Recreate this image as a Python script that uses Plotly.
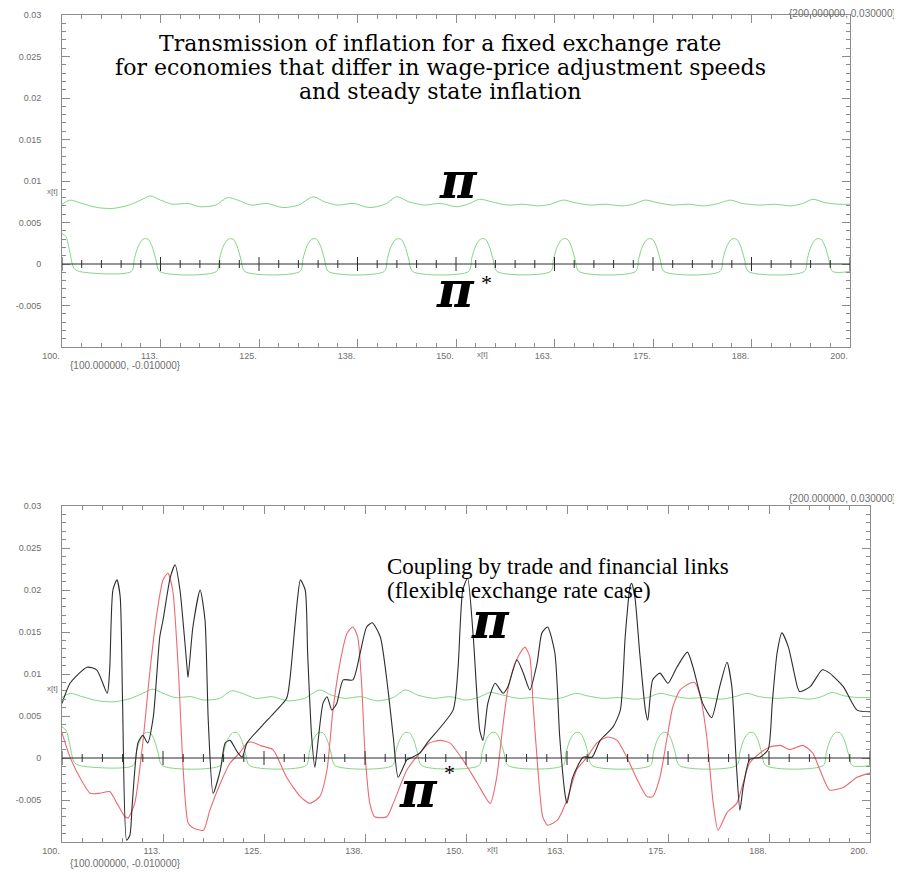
import plotly.graph_objects as go

# ---------------- data ----------------
# x positions are time t (100..200); values are inflation rates
green_up_x = [100.0, 101.0, 102.5, 104.5, 106.5, 108.5, 110.0, 111.2, 112.5, 114.0, 116.0, 117.5, 119.5,
              121.0, 122.3, 124.0, 126.0, 128.0, 130.0, 131.9, 133.3, 135.0, 137.0, 139.0, 141.0,
              142.5, 144.0, 146.0, 148.0, 150.0, 151.5, 153.0, 154.5, 156.5, 158.5, 160.5, 162.0,
              163.6, 165.0, 167.0, 169.0, 171.0, 172.5, 174.0, 175.5, 177.5, 179.5, 181.5, 183.3,
              184.8, 186.3, 188.5, 190.5, 192.5, 194.0, 195.3, 196.8, 198.5, 200.0]
green_up_y = [0.0072, 0.0077, 0.0073, 0.0068, 0.0067, 0.0071, 0.0077, 0.0082, 0.0077, 0.0072, 0.0073, 0.0069, 0.0071,
              0.0080, 0.0077, 0.0071, 0.0073, 0.0068, 0.0071, 0.0081, 0.0075, 0.0071, 0.0073, 0.0068, 0.0072,
              0.0081, 0.0075, 0.0071, 0.0073, 0.0069, 0.0072, 0.0078, 0.0075, 0.0071, 0.0072, 0.0070, 0.0072,
              0.0077, 0.0074, 0.0071, 0.0072, 0.0070, 0.0072, 0.0077, 0.0074, 0.0071, 0.0072, 0.0070, 0.0073,
              0.0077, 0.0073, 0.0071, 0.0072, 0.0070, 0.0073, 0.0078, 0.0074, 0.0072, 0.0072]

green_lo_x = [100.0, 100.5, 101.0, 101.5, 102.2,
              108.8, 109.2, 109.7, 110.3, 110.9, 111.4, 111.9, 112.4,
              119.6, 120.0, 120.5, 121.1, 121.7, 122.2, 122.7, 123.2,
              130.2, 130.6, 131.1, 131.7, 132.3, 132.8, 133.3, 133.8,
              140.9, 141.3, 141.8, 142.4, 143.0, 143.5, 144.0, 144.5,
              151.6, 152.0, 152.5, 153.1, 153.7, 154.2, 154.7, 155.2,
              162.0, 162.4, 162.9, 163.5, 164.1, 164.6, 165.1, 165.6,
              172.8, 173.2, 173.7, 174.3, 174.9, 175.4, 175.9, 176.4,
              183.5, 183.9, 184.4, 185.0, 185.6, 186.1, 186.6, 187.1,
              194.2, 194.6, 195.1, 195.7, 196.3, 196.8, 197.3, 197.8,
              200.0]
green_lo_y = [0.0037, 0.0033, 0.0014, -0.0005, -0.0009,
              -0.0009, 0.0007, 0.0022, 0.0030, 0.0030, 0.0022, 0.0006, -0.0009,
              -0.0009, 0.0007, 0.0022, 0.0030, 0.0030, 0.0022, 0.0006, -0.0009,
              -0.0009, 0.0007, 0.0022, 0.0030, 0.0030, 0.0022, 0.0006, -0.0009,
              -0.0009, 0.0007, 0.0022, 0.0030, 0.0030, 0.0022, 0.0006, -0.0009,
              -0.0009, 0.0007, 0.0022, 0.0030, 0.0030, 0.0022, 0.0006, -0.0009,
              -0.0009, 0.0007, 0.0022, 0.0030, 0.0030, 0.0022, 0.0006, -0.0009,
              -0.0009, 0.0007, 0.0022, 0.0030, 0.0030, 0.0022, 0.0006, -0.0009,
              -0.0009, 0.0007, 0.0022, 0.0030, 0.0030, 0.0022, 0.0006, -0.0009,
              -0.0009, 0.0007, 0.0022, 0.0030, 0.0030, 0.0022, 0.0006, -0.0009,
              -0.0009]

pi_x = [100.0, 101.0, 103.1, 104.3, 105.6, 105.9, 106.3, 106.8, 107.2, 107.5, 108.0, 108.4, 108.7,
        109.4, 110.0, 110.6, 111.3, 112.1, 112.5, 113.4, 114.0, 114.6, 115.5, 115.6, 116.2, 117.1,
        117.7, 118.1, 118.7, 119.6, 120.2, 120.8, 121.7, 122.3, 122.9, 125.4, 127.8, 128.2, 129.1,
        129.5, 130.1, 130.4, 130.9, 131.3, 131.7, 132.3, 132.8, 133.4, 134.0, 134.8, 136.0, 136.9,
        137.7, 138.4, 139.4, 140.3, 141.0, 141.6, 142.7, 143.4, 144.3, 145.2, 148.4, 149.0, 149.6,
        150.2, 150.9, 151.7, 152.1, 152.7, 153.6, 154.6, 155.2, 156.3, 157.1, 157.9, 158.8, 159.4,
        160.1, 161.0, 161.6, 162.3, 162.5, 163.2, 164.5, 165.6, 166.6, 168.2, 169.1, 169.7, 170.3,
        170.5, 170.9, 171.5, 172.2, 172.5, 173.1, 174.0, 175.0, 176.1, 177.4, 178.1, 179.3, 180.4,
        181.4, 182.3, 182.9, 183.5, 183.9, 184.3, 185.1, 186.4, 187.4, 187.9, 188.5, 189.1, 189.9,
        191.0, 191.3, 192.6, 194.1, 195.0, 196.7, 198.4, 200.0]
pi_y = [0.0065, 0.0089, 0.0108, 0.0105, 0.0077, 0.0105, 0.0200, 0.0212, 0.0192, 0.0065, -0.0098, -0.0092, -0.0054,
        0.0018, 0.0027, 0.0018, 0.0049, 0.0144, 0.0164, 0.0215, 0.0230, 0.0200, 0.0105, 0.0096, 0.0156, 0.0200,
        0.0164, 0.0045, -0.0042, -0.0014, 0.0018, 0.0021, 0.0007, 0.0001, 0.0018, 0.0045, 0.0071, 0.0093, 0.0185,
        0.0212, 0.0200, 0.0125, 0.0025, -0.0011, 0.0021, 0.0065, 0.0073, 0.0057, 0.0065, 0.0093, 0.0093, 0.0125,
        0.0156, 0.0161, 0.0144, 0.0085, 0.0025, -0.0023, -0.0002, 0.0001, 0.0006, 0.0018, 0.0057, 0.0105, 0.0200,
        0.0214, 0.0144, 0.0033, 0.0021, 0.0065, 0.0089, 0.0077, 0.0085, 0.0117, 0.0101, 0.0081, 0.0113, 0.0149,
        0.0156, 0.0125, 0.0025, -0.0046, -0.0054, -0.0023, 0.0001, 0.0001, 0.0021, 0.0037, 0.0057, 0.0144, 0.0204,
        0.0208, 0.0192, 0.0125, 0.0057, 0.0045, 0.0093, 0.0101, 0.0089, 0.0108, 0.0126, 0.0108, 0.0065, 0.0048,
        0.0085, 0.0114, 0.0085, -0.0014, -0.0062, -0.0035, -0.0002, 0.0001, 0.0010, 0.0065, 0.0125, 0.0149, 0.0132,
        0.0085, 0.0079, 0.0085, 0.0105, 0.0101, 0.0085, 0.0057, 0.0055]

pistar_x = [100.0, 101.0, 102.2, 103.5, 104.7, 105.9, 106.8, 107.8, 108.2, 109.0, 110.0, 110.9, 111.8,
            112.5, 113.1, 113.7, 114.4, 115.0, 115.6, 116.2, 117.5, 118.3, 119.6, 120.8, 122.0, 122.9,
            123.5, 124.5, 126.1, 127.8, 129.5, 130.7, 131.9, 132.8, 133.5, 134.4, 135.3, 136.0, 136.6,
            137.1, 137.5, 138.1, 138.7, 140.2, 141.0, 142.7, 144.3, 145.5, 146.8, 148.0, 149.6, 151.4,
            153.0, 153.8, 154.5, 155.1, 155.8, 156.7, 157.3, 157.9, 158.3, 158.9, 159.5, 160.1, 161.3,
            162.5, 163.7, 165.0, 166.2, 167.5, 168.7, 169.9, 171.2, 172.4, 173.1, 174.0, 174.9, 175.6,
            176.5, 177.7, 178.3, 179.0, 179.8, 180.6, 181.2, 182.3, 183.5, 184.3, 185.1, 186.4, 187.6,
            188.9, 190.1, 191.7, 192.9, 193.8, 195.0, 196.7, 198.4, 200.0]
pistar_y = [0.0030, 0.0001, -0.0023, -0.0042, -0.0042, -0.0040, -0.0054, -0.0070, -0.0071, -0.0054, 0.0018, 0.0105, 0.0176,
            0.0212, 0.0220, 0.0200, 0.0105, -0.0014, -0.0077, -0.0083, -0.0086, -0.0062, -0.0030, -0.0006, 0.0006, 0.0018,
            0.0019, 0.0015, 0.0010, -0.0023, -0.0046, -0.0054, -0.0046, -0.0014, 0.0054, 0.0113, 0.0149, 0.0156, 0.0144,
            0.0085, 0.0006, -0.0054, -0.0070, -0.0070, -0.0054, -0.0014, 0.0006, 0.0018, 0.0021, 0.0018, -0.0002, -0.0030,
            -0.0054, -0.0023, 0.0033, 0.0077, 0.0105, 0.0125, 0.0132, 0.0120, 0.0065, -0.0014, -0.0070, -0.0080, -0.0074,
            -0.0050, -0.0014, 0.0001, 0.0018, 0.0025, 0.0021, 0.0001, -0.0026, -0.0046, -0.0046, -0.0023, 0.0025, 0.0061,
            0.0081, 0.0089, 0.0090, 0.0073, 0.0025, -0.0054, -0.0086, -0.0065, -0.0054, -0.0030, -0.0006, 0.0006, 0.0013,
            0.0015, 0.0010, 0.0015, 0.0006, -0.0014, -0.0038, -0.0035, -0.0023, -0.0018]

x_tickvals = [100, 112.5, 125, 137.5, 150, 162.5, 175, 187.5, 200]
x_ticktext = ["100.", "113.", "125.", "138.", "150.", "163.", "175.", "188.", "200."]
y_tickvals = [-0.005, 0, 0.005, 0.01, 0.015, 0.02, 0.025, 0.03]
y_ticktext = ["-0.005", "0", "0.005", "0.01", "0.015", "0.02", "0.025", "0.03"]

title_top = ["Transmission of inflation for a fixed exchange rate",
             "for economies that differ in wage-price adjustment speeds",
             "and steady state inflation"]
title_bottom = ["Coupling by trade and financial links",
                "(flexible exchange rate case)"]

# ---------------- styles ----------------
GREEN = "rgb(130,215,130)"
RED = "rgb(236,105,115)"
BLACK = "rgb(45,45,45)"
GRAY = "rgb(140,140,140)"
OFF = 8                      # page body margin of the html page
W, H = 902 - OFF, 874 - OFF
ML, MR, MT, MB = 54, 32, 7, 32
PW, PH = W - ML - MR, H - MT - MB


def px(sx):
    """screen x -> paper fraction"""
    return (sx - OFF - ML) / PW


def py(sy):
    """screen y -> paper fraction"""
    return (H - MB - (sy - OFF)) / PH


fig = go.Figure()

for xa, ya in (("x", "y"), ("x2", "y2")):
    fig.add_trace(go.Scatter(x=green_up_x, y=green_up_y, mode="lines", xaxis=xa, yaxis=ya,
                             line=dict(color=GREEN, width=1, shape="spline", smoothing=0.8),
                             showlegend=False, hoverinfo="skip"))
    fig.add_trace(go.Scatter(x=green_lo_x, y=green_lo_y, mode="lines", xaxis=xa, yaxis=ya,
                             line=dict(color=GREEN, width=1, shape="spline", smoothing=0.8),
                             showlegend=False, hoverinfo="skip"))

fig.add_trace(go.Scatter(x=pistar_x, y=pistar_y, mode="lines", xaxis="x2", yaxis="y2",
                         line=dict(color=RED, width=1.1, shape="spline", smoothing=0.6),
                         showlegend=False))
fig.add_trace(go.Scatter(x=pi_x, y=pi_y, mode="lines", xaxis="x2", yaxis="y2",
                         line=dict(color=BLACK, width=1.1, shape="spline", smoothing=0.6),
                         showlegend=False))

# zero line with cross ticks in both panels
shapes = []
cross_ticks = [100 + 2.5 * i for i in range(41)]
for xr, yr in (("x", "y"), ("x2", "y2")):
    shapes.append(dict(type="line", xref=xr, yref=yr, x0=100, x1=200, y0=0, y1=0,
                       line=dict(color=BLACK, width=1)))
    for t in cross_ticks:
        major = abs((t - 100) / 12.5 - round((t - 100) / 12.5)) < 1e-9
        L = 7 if major else 4
        shapes.append(dict(type="line", xref=xr, yref=yr, x0=t, x1=t,
                           ysizemode="pixel", yanchor=0, y0=-L, y1=L,
                           line=dict(color=BLACK, width=1)))

axis_common = dict(showgrid=False, zeroline=False, showline=True, linecolor=GRAY, linewidth=1,
                   mirror="ticks", ticks="inside", ticklen=8, tickcolor=GRAY, tickwidth=1,
                   automargin=False,
                   tickfont=dict(family="Liberation Sans", size=9, color="rgb(110,110,110)"))

xaxis_cfg = dict(axis_common, range=[100, 200], tickmode="array", tickvals=x_tickvals, ticktext=x_ticktext,
                 ticklabelshift=-11, ticklabelstandoff=0,
                 minor=dict(tickmode="linear", tick0=100, dtick=2.5, ticks="inside", ticklen=4,
                            tickcolor=GRAY))
yaxis_cfg = dict(axis_common, range=[-0.01, 0.03], tickmode="array", tickvals=y_tickvals, ticktext=y_ticktext,
                 ticklabelstandoff=18,
                 minor=dict(tickmode="linear", tick0=0, dtick=0.001, ticks="inside", ticklen=4,
                            tickcolor=GRAY))

top_dom = [py(347), 1.0]
bot_dom = [0.0, py(506)]

fig.update_layout(
    width=W, height=H, paper_bgcolor="white", plot_bgcolor="white",
    margin=dict(l=ML, r=MR, t=MT, b=MB, autoexpand=False),
    xaxis=dict(xaxis_cfg, domain=[0, px(850)], anchor="y"),
    yaxis=dict(yaxis_cfg, domain=top_dom, anchor="x"),
    xaxis2=dict(xaxis_cfg, domain=[0, 1], anchor="y2"),
    yaxis2=dict(yaxis_cfg, domain=bot_dom, anchor="x2"),
    shapes=shapes,
)

ann = []


def note(text, x, y, font, xanchor="center", yanchor="middle"):
    ann.append(dict(text=text, x=px(x), y=py(y), xref="paper", yref="paper", showarrow=False,
                    xanchor=xanchor, yanchor=yanchor, font=font))


top_font = dict(family="DejaVu Serif", size=22, color="black")
bot_font = dict(family="Liberation Serif", size=23, color="black")
for line, yy in zip(title_top, (44, 68, 92)):
    note(line, 440, yy, top_font)
for line, yy in zip(title_bottom, (566, 590)):
    note(line, 385, yy, bot_font, xanchor="left")

pi_font = dict(family="DejaVu Serif", size=50, color="black")
star_font = dict(family="Liberation Serif", size=22, color="black")
note("<b><i>π</i></b>", 458, 180, pi_font)
note("<b><i>π</i></b>", 455, 289, pi_font)
note("*", 486, 282, star_font)
note("<b><i>π</i></b>", 490, 620, pi_font)
note("<b><i>π</i></b>", 418, 789, pi_font)
note("*", 449, 772, star_font)

small = dict(family="Liberation Sans", size=8, color="rgb(110,110,110)")
corner = dict(family="Liberation Sans", size=10, color="rgb(110,110,110)")
for yy in (365, 863):
    note("{100.000000, -0.010000}", 68, yy, corner, xanchor="left")
for yy in (13, 498):
    note("{200.000000, 0.030000}", 898, yy, corner, xanchor="right")
for yy in (192, 688):
    note("x[t]", 60, yy, small, xanchor="right")
for xx, yy in ((482, 354), (492, 849)):
    note("x[t]", xx, yy, small)

fig.update_layout(annotations=ann)
fig.write_html("out.html")
